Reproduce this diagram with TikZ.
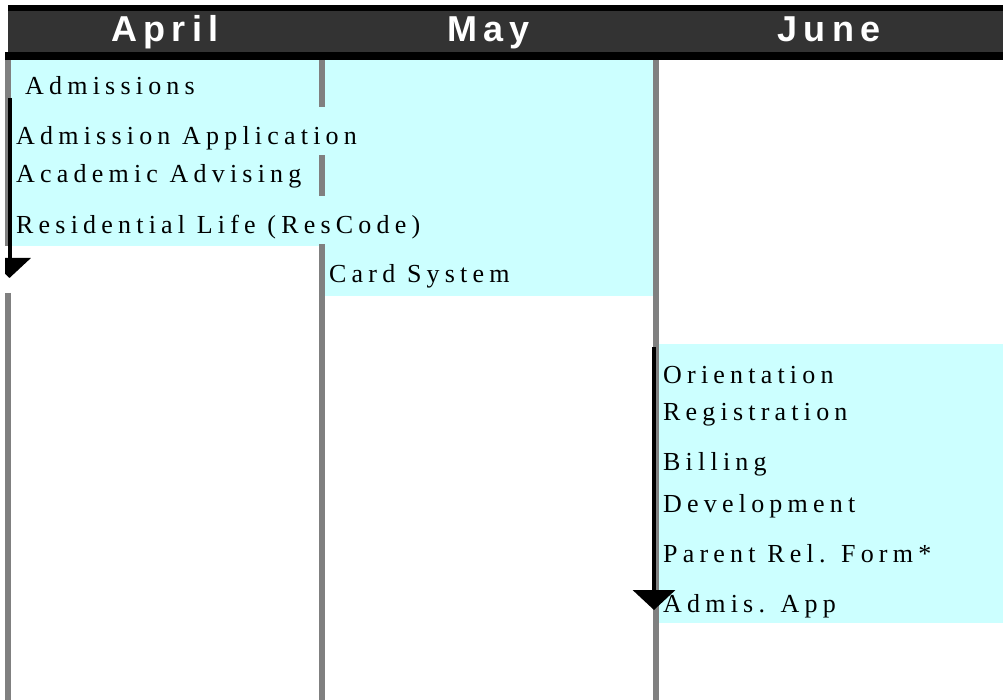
\documentclass[tikz,border=0pt]{standalone}
\usepackage{fontspec}
\newfontfamily\taskfont[LetterSpace=20]{Liberation Serif}
\newfontfamily\monthfont[LetterSpace=18]{Liberation Sans}
\usetikzlibrary{arrows.meta}
\definecolor{bandgray}{RGB}{51,51,51}
\definecolor{slotcyan}{RGB}{204,255,255}
\definecolor{gridgray}{RGB}{128,128,128}

\begin{document}
\begin{tikzpicture}[
  x=1pt, y=-1pt,
  >={Triangle[width=42pt,length=20pt]},
  task/.style={anchor=base west, fill=slotcyan, inner xsep=4pt, inner ysep=4pt,
    text height=34pt, text depth=6pt, font=\taskfont\fontsize{26pt}{30pt}\selectfont},
  month/.style={anchor=base, text=white, inner sep=0pt,
    font=\monthfont\bfseries\fontsize{36pt}{40pt}\selectfont},
  divider/.style={gridgray, line width=6pt},
  flow/.style={->, line width=4pt}
]
\useasboundingbox (0,0) rectangle (1003,700);

% Shaded periods
\fill[slotcyan] (11,60) rectangle (322,246);
\fill[slotcyan] (322,60) rectangle (653,296);
\fill[slotcyan] (659,344) rectangle (1003,623);

% Column dividers
\draw[divider] (8,60) -- (8,246);
\draw[divider] (8,293) -- (8,700);
\draw[divider] (322,60) -- (322,700);
\draw[divider] (656,60) -- (656,700);

% April / May tasks (bottom up, so no box hides the descenders above it)
\node[task] (cards) at (325,283) {Card System};
\node[task] (reslife) at (12,234) {Residential Life (ResCode)};
\node[task] (advising) at (12,183) {Academic Advising};
\node[task] (admapp) at (12,145) {Admission Application};
\node[task] (admissions) at (21,95) {Admissions};

% June tasks
\node[task] (admis) at (659,612) {Admis. App};
\node[task] (parent) at (659,562) {Parent Rel. Form*};
\node[task] (develop) at (659,512) {Development};
\node[task] (billing) at (659,470) {Billing};
\node[task] (regist) at (659,420) {Registration};
\node[task] (orient) at (659,383) {Orientation};

% Time arrows
\coordinate (aprtop) at (9.5,98);
\coordinate (aprbot) at (9.5,278);
\coordinate (juntop) at (654,347);
\coordinate (junbot) at (654,610);
\begin{scope}
  \clip (5,0) rectangle (1003,700);
  \draw[flow] (aprtop) -- (aprbot);
\end{scope}
\draw[flow] (juntop) -- (junbot);

% Header band
\fill[black] (8,5) rectangle (1003,11);
\fill[bandgray] (8,11) rectangle (1003,52);
\fill[black] (5,52) rectangle (1003,60);
\node[month] (april) at (165,42) {April};
\node[month] (may) at (488.5,42) {May};
\node[month] (june) at (829,42) {June};

\end{tikzpicture}
\end{document}
